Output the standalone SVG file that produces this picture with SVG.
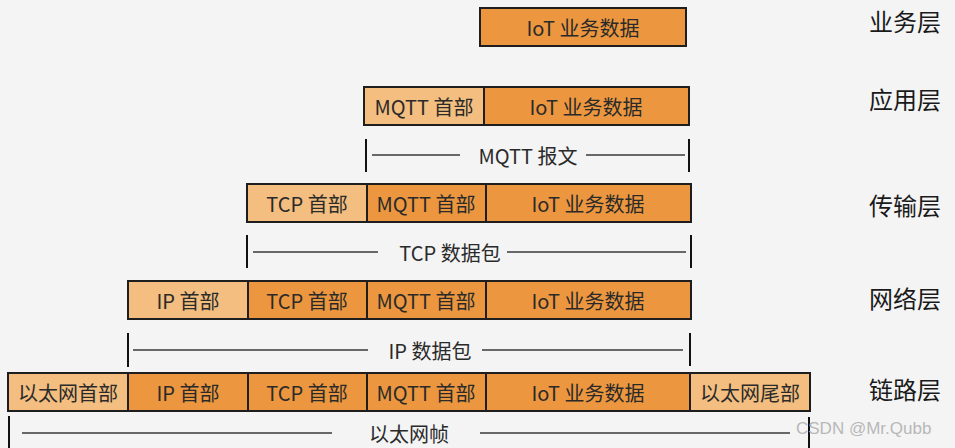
<svg xmlns="http://www.w3.org/2000/svg" width="955" height="448" viewBox="0 0 955 448">
<style>
.lt{fill:#F3BE7F;stroke:#1e1e1e;stroke-width:2}
.dk{fill:#EC973F;stroke:#1e1e1e;stroke-width:2}
.bt{font-family:"Noto Sans CJK SC","Noto Sans",sans-serif;font-size:20px;fill:#2a2a2a;text-anchor:middle;dominant-baseline:central}
.lay{font-family:"Noto Sans CJK SC","Noto Sans",sans-serif;font-size:24px;fill:#1a1a1a;text-anchor:start;dominant-baseline:central}
.ln{stroke:#3a3a3a;stroke-width:1.6;fill:none}
.tk{stroke:#111;stroke-width:2;fill:none}
.wm{font-family:"Liberation Sans",Arial,sans-serif;font-size:17px;fill:#b8b8b8;dominant-baseline:central}
</style>
<rect x="0" y="0" width="955" height="448" fill="#f4f4f4"/>

<g id="layer-labels">
<text class="lay" x="869" y="20">业务层</text>
<text class="lay" x="869" y="98">应用层</text>
<text class="lay" x="869" y="204">传输层</text>
<text class="lay" x="869" y="297">网络层</text>
<text class="lay" x="869" y="388">链路层</text>
</g>

<g id="row-business">
<g id="r1-data"><rect class="dk" x="480" y="8" width="206" height="38"/><text class="bt" x="583" y="27">IoT 业务数据</text></g>
</g>

<g id="row-application">
<g id="r2-mqtt"><rect class="lt" x="364" y="87" width="120" height="38"/><text class="bt" x="424" y="106">MQTT 首部</text></g>
<g id="r2-data"><rect class="dk" x="484" y="87" width="205" height="38"/><text class="bt" x="586" y="106">IoT 业务数据</text></g>
</g>

<g id="row-transport">
<g id="r3-tcp"><rect class="lt" x="247" y="184" width="120" height="38"/><text class="bt" x="307" y="203">TCP 首部</text></g>
<g id="r3-mqtt"><rect class="dk" x="367" y="184" width="119" height="38"/><text class="bt" x="426" y="203">MQTT 首部</text></g>
<g id="r3-data"><rect class="dk" x="486" y="184" width="205" height="38"/><text class="bt" x="588" y="203">IoT 业务数据</text></g>
</g>

<g id="row-network">
<g id="r4-ip"><rect class="lt" x="128" y="281" width="120" height="38"/><text class="bt" x="188" y="300">IP 首部</text></g>
<g id="r4-tcp"><rect class="dk" x="248" y="281" width="119" height="38"/><text class="bt" x="307" y="300">TCP 首部</text></g>
<g id="r4-mqtt"><rect class="dk" x="367" y="281" width="119" height="38"/><text class="bt" x="426" y="300">MQTT 首部</text></g>
<g id="r4-data"><rect class="dk" x="486" y="281" width="205" height="38"/><text class="bt" x="588" y="300">IoT 业务数据</text></g>
</g>

<g id="row-link">
<g id="r5-eth"><rect class="lt" x="8" y="373" width="120" height="38"/><text class="bt" x="68" y="392">以太网首部</text></g>
<g id="r5-ip"><rect class="dk" x="128" y="373" width="120" height="38"/><text class="bt" x="188" y="392">IP 首部</text></g>
<g id="r5-tcp"><rect class="dk" x="248" y="373" width="119" height="38"/><text class="bt" x="307" y="392">TCP 首部</text></g>
<g id="r5-mqtt"><rect class="dk" x="367" y="373" width="119" height="38"/><text class="bt" x="426" y="392">MQTT 首部</text></g>
<g id="r5-data"><rect class="dk" x="486" y="373" width="204" height="38"/><text class="bt" x="588" y="392">IoT 业务数据</text></g>
<g id="r5-trailer"><rect class="lt" x="690" y="373" width="120" height="38"/><text class="bt" x="750" y="392">以太网尾部</text></g>
</g>

<g id="connectors">
<g id="span-mqtt">
<line class="tk" x1="366" y1="139" x2="366" y2="172"/>
<line class="ln" x1="372" y1="155" x2="460" y2="155"/>
<text class="bt" x="528" y="155">MQTT 报文</text>
<line class="ln" x1="586" y1="155" x2="685" y2="155"/>
<line class="tk" x1="689" y1="139" x2="689" y2="172"/>
</g>
<g id="span-tcp">
<line class="tk" x1="247" y1="235" x2="247" y2="268"/>
<line class="ln" x1="253" y1="252" x2="378" y2="252"/>
<text class="bt" x="450" y="252">TCP 数据包</text>
<line class="ln" x1="507" y1="252" x2="686" y2="252"/>
<line class="tk" x1="691" y1="235" x2="691" y2="268"/>
</g>
<g id="span-ip">
<line class="tk" x1="128" y1="333" x2="128" y2="367"/>
<line class="ln" x1="133" y1="350" x2="368" y2="350"/>
<text class="bt" x="430" y="350">IP 数据包</text>
<line class="ln" x1="482" y1="350" x2="683" y2="350"/>
<line class="tk" x1="690" y1="333" x2="690" y2="366"/>
</g>
<g id="span-eth">
<line class="tk" x1="9" y1="416" x2="9" y2="448"/>
<line class="ln" x1="22" y1="433" x2="332" y2="433"/>
<text class="bt" x="409" y="433">以太网帧</text>
<line class="ln" x1="480" y1="433" x2="790" y2="433"/>
<line class="tk" x1="809" y1="417" x2="809" y2="448"/>
</g>
</g>

<text class="wm" x="796" y="428">CSDN @Mr.Qubb</text>
</svg>
